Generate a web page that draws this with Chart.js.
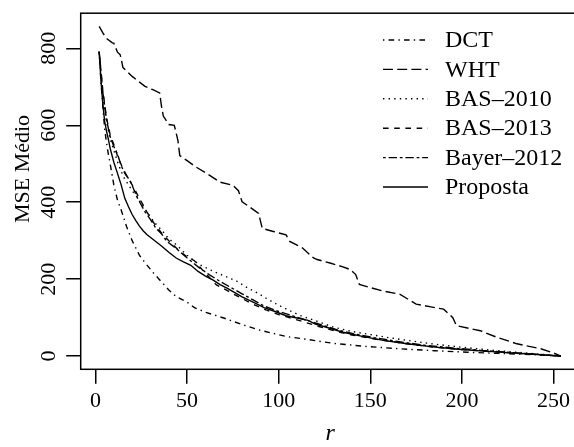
<!DOCTYPE html>
<html>
<head>
<meta charset="utf-8">
<script src="https://cdn.jsdelivr.net/npm/chart.js@4.4.0/dist/chart.umd.min.js"></script>
<style>
  html, body { margin: 0; padding: 0; background: #fff; }
  #wrap { width: 574px; height: 447px; overflow: hidden; }
  canvas { display: block; }
</style>
</head>
<body>
<div id="wrap"><canvas id="chart" width="590" height="447"></canvas></div>
<script>
// valores (r x MSE médio)
const dctX = [2,3,4,5,6,7,8,10,12,14,17,20,24,28,32,36,40,44,50,54,60,70,80,90,104,116,130,148,166,185,203,220,239,254];
const dctY = [791,710,650,590,555,525,500,445,405,380,336,300,262,237,214,193,172,155,140,126,114,99,82,67,51,43,33,25,19,14,10,7,4,0];

const whtX = [2,4,6,9,10,12,13.5,15,20,27,31,35,36,37,40,43,45,46,50,55,61,68,75,78,80,84,89,91,97,104,106,113,119,121,128,135,139,142,144,150,157,166,175,183,190,195,197,210,219,230,243,250,254];
const whtY = [857,840,826,815,813,790,783,750,727,701,693,684,650,624,602,600,560,521,508,491,474,452,444,430,401,388,371,332,324,315,298,281,255,251,242,232,225,212,186,178,169,161,135,128,122,100,79,66,49,32,19,8,0];

const bas2010X = [2,4,6,8,10,12,14,16,20,24,28,32,36,40,44,50,56,64,72,77,82,88,94,100,106,112,120,130,140,150,160,170,185,200,215,230,245,254];
const bas2010Y = [791,680,610,565,535,505,480,460,430,405,375,348,328,305,290,262,240,221,205,195,180,165,148,132,118,105,92,75,64,56,48,41,31,23,16,10,4,0];

const bas2013X = [2,4,6,8,10,12,15,18,20,24,28,32,36,40,46,50,54,60,66,72,79,86,93,100,108,115,122,130,140,150,160,170,185,200,215,230,245,254];
const bas2013Y = [791,690,620,575,550,520,487,460,445,410,375,345,320,300,272,258,248,215,185,170,152,135,120,108,97,87,77,66,55,46,39,32,23,17,12,7,3,0];

const bayerX = [2,4,6,8,10,12,14,16,19,23,27,30,33,36,39,44,50,56,62,68,74,80,86,92,100,108,116,124,132,142,152,165,180,195,210,225,240,254];
const bayerY = [791,685,615,570,545,525,495,475,455,410,375,355,332,318,298,280,255,232,212,194,178,162,146,130,116,104,92,80,68,57,48,38,28,21,15,10,5,0];

const propX = [2,3,4,5,6,7,8,10,12,14,16,18,20,22,24,26,28,32,36,40,44,48,52,56,60,64,68,72,76,80,86,92,98,104,110,116,120,126,135,145,157,170,184,198,212,225,239,254];
const propY = [791,715,655,610,585,564,540,504,475,445,410,388,368,352,338,326,316,301,286,270,255,245,236,220,208,198,186,176,165,154,140,126,116,105,99,93,83,75,62,52,41,32,24,18,13,9,5,0];

const seriesNames = ['DCT', 'WHT', 'BAS–2010', 'BAS–2013', 'Bayer–2012', 'Proposta'];
const xTicks = [0, 50, 100, 150, 200, 250];
const yTicks = [0, 200, 400, 600, 800];

// estilos de linha (lty do R)
const dashes = [[1.4,4.2,5.6,4.2], [10,4.2], [1.4,4.2], [5.6,5.6], [2.8,2.8,8.4,2.8], []];
const serif = 'Liberation Serif, Times New Roman, serif';

const toPts = (xs, ys) => xs.map((x, i) => ({ x: x, y: ys[i] }));
const allX = [dctX, whtX, bas2010X, bas2013X, bayerX, propX];
const allY = [dctY, whtY, bas2010Y, bas2013Y, bayerY, propY];

const datasets = seriesNames.map((name, i) => ({
    label: name,
    data: toPts(allX[i], allY[i]),
    borderColor: '#000',
    borderWidth: 1.4,
    borderDash: dashes[i],
    pointRadius: 0,
    fill: false,
    tension: 0
}));

// caixa, legenda e títulos dos eixos
const rStyle = {
    id: 'rStyle',
    afterDraw(chart) {
        const ctx = chart.ctx;
        const a = chart.chartArea;
        ctx.save();
        ctx.strokeStyle = '#000';
        ctx.lineWidth = 1.5;
        ctx.setLineDash([]);
        ctx.strokeRect(a.left, a.top, a.right - a.left, a.bottom - a.top);

        // legenda
        ctx.font = '24px ' + serif;
        ctx.fillStyle = '#000';
        ctx.textBaseline = 'middle';
        ctx.textAlign = 'left';
        chart.data.datasets.forEach((ds, i) => {
            const y = 40 + i * 29.4;
            ctx.lineWidth = 1.4;
            ctx.setLineDash(ds.borderDash);
            ctx.beginPath();
            ctx.moveTo(383, y);
            ctx.lineTo(428, y);
            ctx.stroke();
            ctx.setLineDash([]);
            ctx.fillText(ds.label, 445, y + 1);
        });

        // título do eixo x
        ctx.font = 'italic 24px ' + serif;
        ctx.textAlign = 'center';
        ctx.textBaseline = 'alphabetic';
        ctx.fillText('r', (a.left + a.right) / 2, 440);

        // título do eixo y
        ctx.font = '22px ' + serif;
        ctx.translate(29, 169);
        ctx.rotate(-Math.PI / 2);
        ctx.fillText('MSE Médio', 0, 0);
        ctx.restore();
    }
};

const tickFont = { family: serif, size: 22 };

new Chart(document.getElementById('chart'), {
    type: 'line',
    data: { datasets: datasets },
    options: {
        responsive: false,
        animation: false,
        layout: { padding: { top: 9.3, right: 10.6, left: 0, bottom: 0 } },
        plugins: { legend: { display: false }, tooltip: { enabled: false } },
        scales: {
            x: {
                type: 'linear',
                min: -8.08,
                max: 264.08,
                afterBuildTicks: s => { s.ticks = xTicks.map(v => ({ value: v })); },
                afterFit: s => { s.height = 77.7; },
                border: { display: false },
                grid: { drawOnChartArea: false, drawTicks: true, tickLength: 14.5, color: '#000', lineWidth: 1.5 },
                ticks: { color: '#000', font: tickFont, maxRotation: 0, padding: 4 }
            },
            y: {
                type: 'linear',
                min: -34.3,
                max: 891.3,
                afterBuildTicks: s => { s.ticks = yTicks.map(v => ({ value: v })); },
                afterFit: s => { s.width = 80.7; },
                border: { display: false },
                grid: { drawOnChartArea: false, drawTicks: true, tickLength: 14.5, color: '#000', lineWidth: 1.5 },
                ticks: { color: '#000', font: tickFont, minRotation: 90, maxRotation: 90, crossAlign: 'center', padding: 0 }
            }
        }
    },
    plugins: [rStyle]
});
</script>
</body>
</html>
